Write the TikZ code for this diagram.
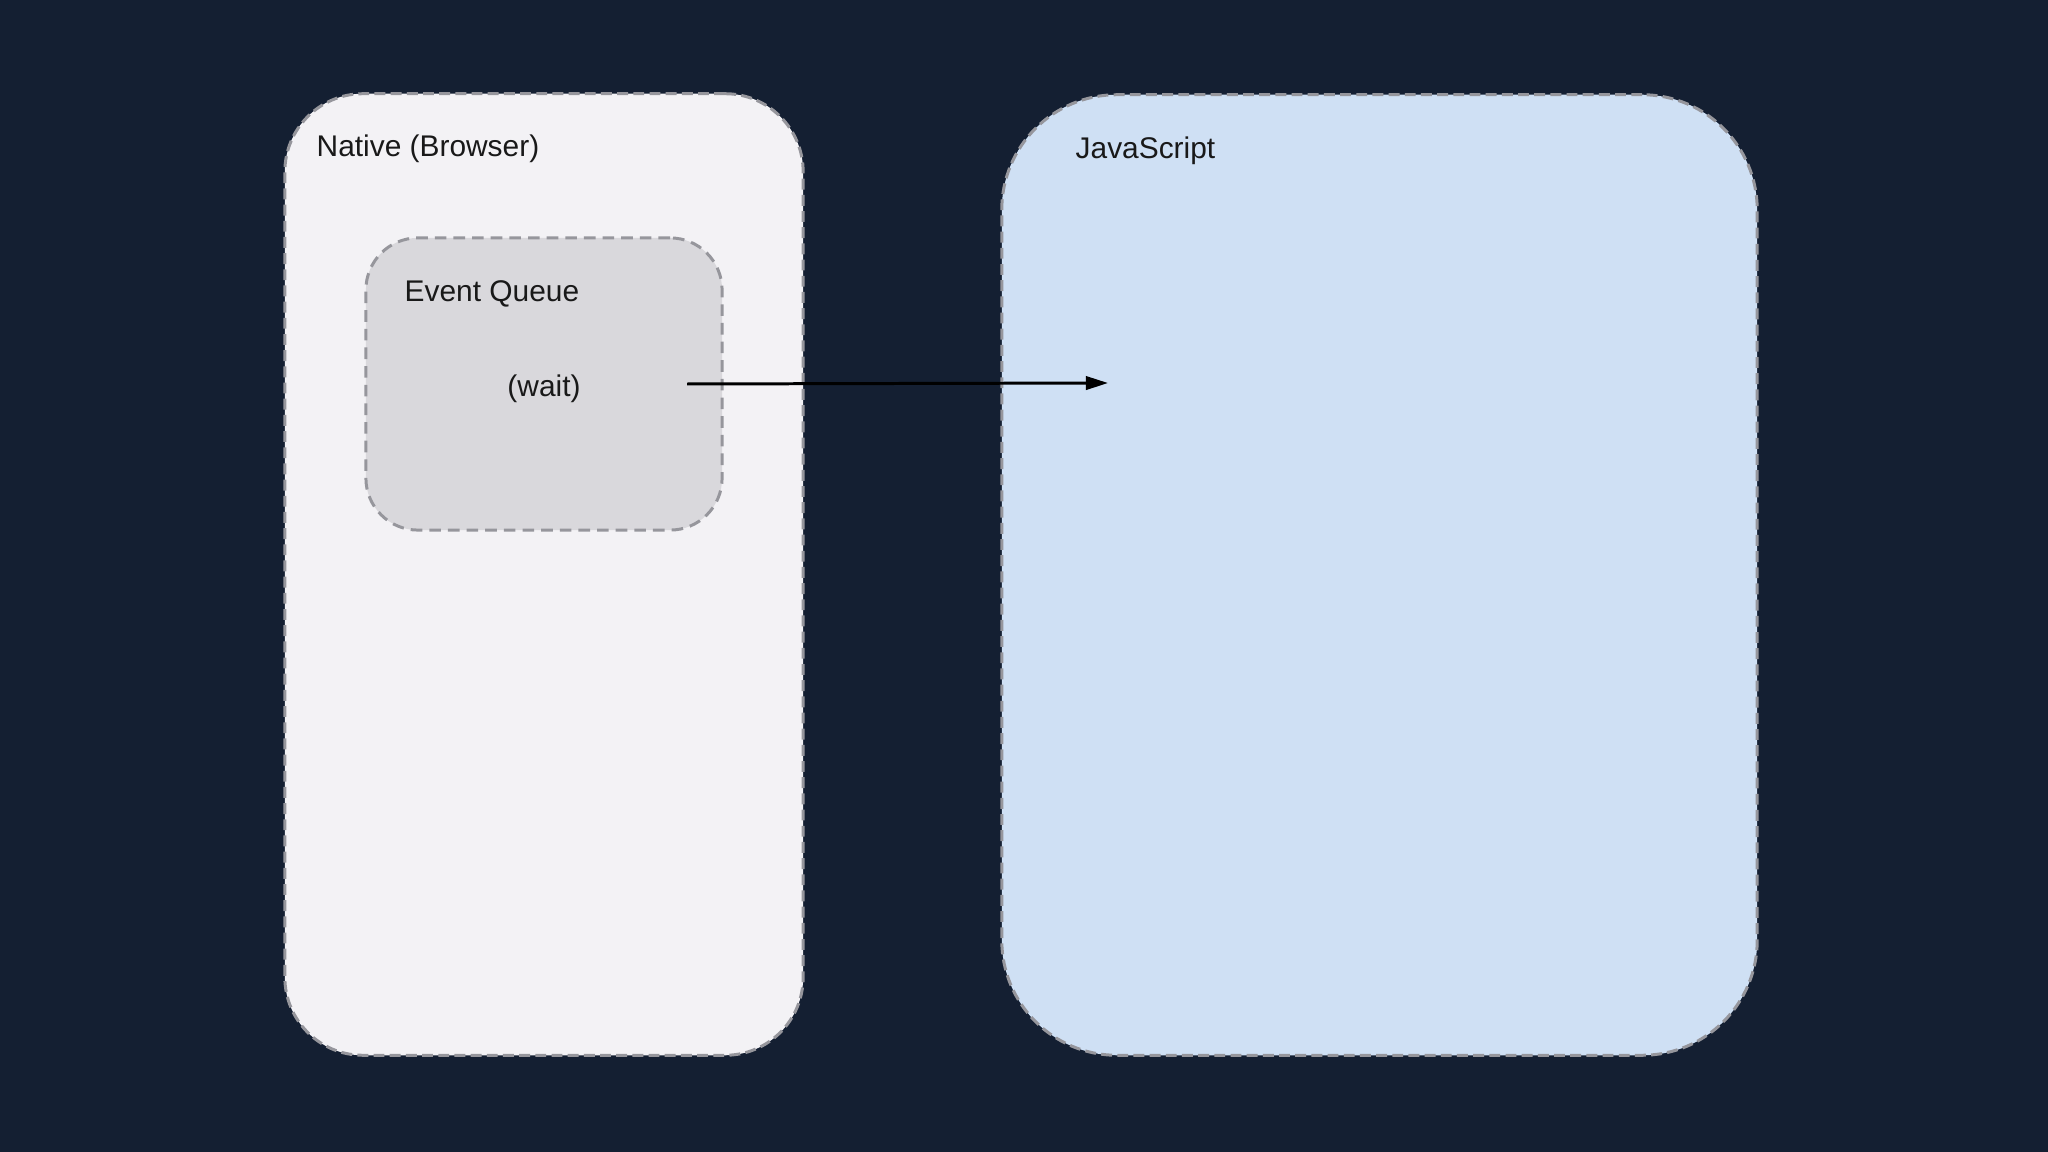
\documentclass[tikz,border=0pt]{standalone}
\usepackage{fontspec}
\setmainfont{Liberation Sans}
\usetikzlibrary{arrows.meta}
\definecolor{bgcol}{RGB}{20,31,50}
\definecolor{nativefill}{RGB}{243,242,245}
\definecolor{queuefill}{RGB}{217,216,220}
\definecolor{jsfill}{RGB}{207,224,244}
\definecolor{dashcol}{RGB}{150,150,156}
\definecolor{txtcol}{RGB}{25,25,25}
\tikzset{
  panel/.style={draw=dashcol, line width=0.85pt, dash pattern=on 3.1pt off 1.5pt, inner sep=0pt},
  innerpanel/.style={draw=dashcol, line width=0.85pt, dash pattern=on 3.3pt off 2pt, inner sep=0pt},
  lbl/.style={text=txtcol, font=\fontsize{8.5}{10}\selectfont, inner sep=0pt},
  flow/.style={draw=black, line width=0.85pt, -{Triangle[length=6.3pt,width=3.8pt]}}
}
\begin{document}
\begin{tikzpicture}[x=0.01cm,y=-0.01cm]
\useasboundingbox (0,0) rectangle (2048,1152);
\fill[bgcol] (0,0) rectangle (2048,1152);
\node[panel, fill=nativefill, rounded corners=0.78cm, minimum width=5.18cm, minimum height=9.61cm] (native) at (544,574.5) {};
\node[innerpanel, fill=queuefill, rounded corners=0.52cm, minimum width=3.56cm, minimum height=2.92cm] (queue) at (544,384) {};
\node[panel, fill=jsfill, rounded corners=1.15cm, minimum width=7.55cm, minimum height=9.6cm] (js) at (1379.5,575) {};
\node[lbl, anchor=west] (nativelbl) at (316,149) {Native (Browser)};
\node[lbl, anchor=west] (queuelbl) at (404,294) {Event Queue};
\node[lbl] (wait) at (544,389) {(wait)};
\node[lbl, anchor=west] (jslbl) at (1075,151) {JavaScript};
\coordinate (arrS) at (687,384);
\coordinate (arrE) at (1108,383);
\draw[flow] (arrS) -- (arrE);
\end{tikzpicture}
\end{document}
